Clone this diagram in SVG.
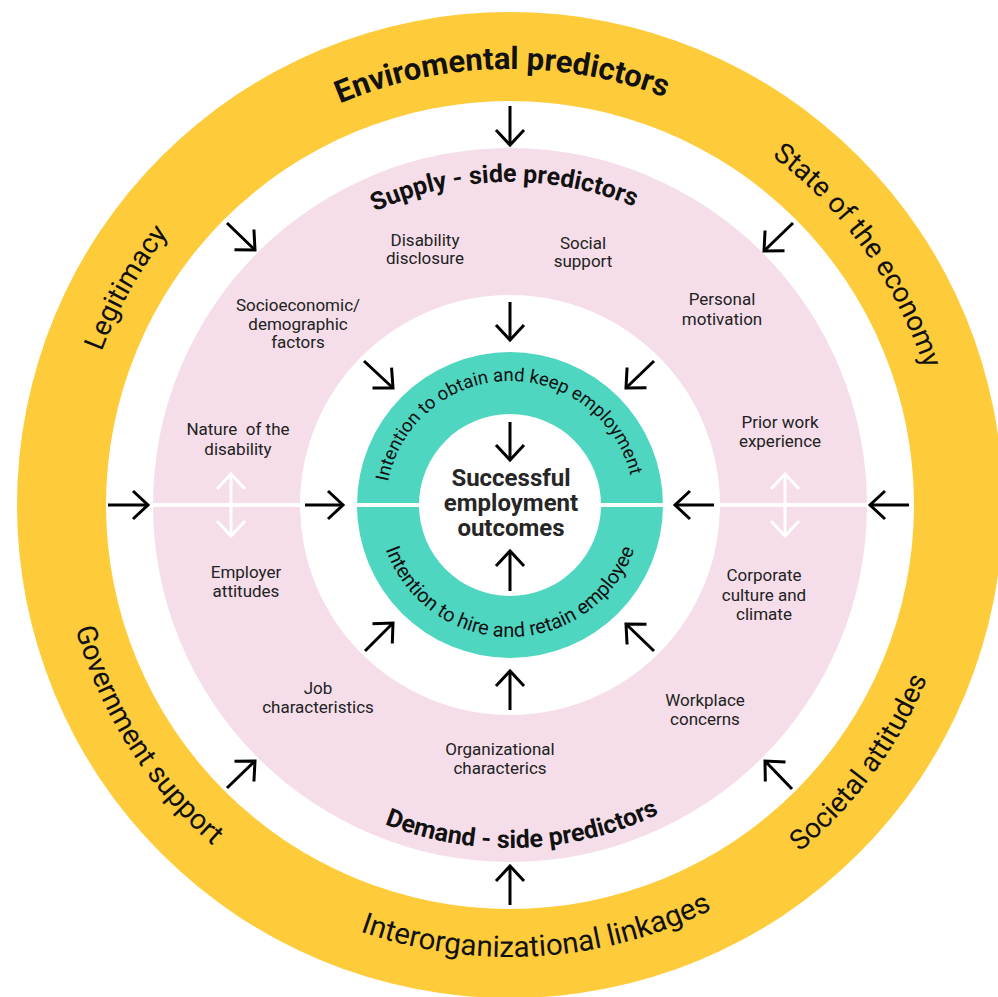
<svg xmlns="http://www.w3.org/2000/svg" width="998" height="997" viewBox="0 0 998 997">
<style>
.lbl{font-family:Roboto,"Liberation Sans",sans-serif;font-size:17px;fill:#222;text-anchor:middle}
.ring{font-family:Roboto,"Liberation Sans",sans-serif;font-size:28px;fill:#111;text-anchor:middle}
.ringb{font-family:Roboto,"Liberation Sans",sans-serif;font-size:31px;font-weight:bold;fill:#111;text-anchor:middle}
.pinkb{font-family:Roboto,"Liberation Sans",sans-serif;font-size:25px;font-weight:bold;fill:#111;text-anchor:middle}
.teal{font-family:Roboto,"Liberation Sans",sans-serif;fill:#111;text-anchor:middle}
.ctr{font-family:Roboto,"Liberation Sans",sans-serif;font-size:24px;font-weight:bold;fill:#262626;text-anchor:middle}
.arr{stroke:#000;stroke-width:3;fill:none;marker-end:url(#ah)}
.warr{stroke:#fff;stroke-width:3;fill:none;marker-start:url(#wh);marker-end:url(#wh)}
</style>
<defs>
<marker id="ah" markerUnits="userSpaceOnUse" markerWidth="40" markerHeight="40" viewBox="-20 -20 40 40" refX="0" refY="0" orient="auto">
<path d="M-15,-14 L0,0 L-15,14" fill="none" stroke="#000" stroke-width="3"/>
</marker>
<marker id="wh" markerUnits="userSpaceOnUse" markerWidth="40" markerHeight="40" viewBox="-20 -20 40 40" refX="0" refY="0" orient="auto-start-reverse">
<path d="M-15,-14 L0,0 L-15,14" fill="none" stroke="#fff" stroke-width="3"/>
</marker>
<path id="pTopY" d="M510,941 A436,436 0 1,1 510,69 A436,436 0 1,1 510,941"/>
<path id="pBotY" d="M510,53 A452,452 0 1,0 510,957 A452,452 0 1,0 510,53"/>
<path id="pTopP" d="M510,828 A323,323 0 1,1 510,182 A323,323 0 1,1 510,828"/>
<path id="pBotP" d="M510,162 A343,343 0 1,0 510,848 A343,343 0 1,0 510,162"/>
<path id="pTopT" d="M510,629 A124,124 0 1,1 510,381 A124,124 0 1,1 510,629"/>
<path id="pBotT" d="M510,373 A132,132 0 1,0 510,637 A132,132 0 1,0 510,373"/>
</defs>
<rect width="998" height="997" fill="#fff"/>
<g id="environmental-ring">
<circle cx="510" cy="505" r="493" fill="#FECB3B"/>
<circle cx="510" cy="505" r="404" fill="#fff"/>
<text class="ringb"><textPath href="#pTopY" startOffset="49.7%">Enviromental predictors</textPath></text>
<text class="ring"><textPath href="#pTopY" startOffset="33.2%">Legitimacy</textPath></text>
<text class="ring"><textPath href="#pTopY" startOffset="65.1%">State of the economy</textPath></text>
<text class="ring" style="font-size:28.5px"><textPath href="#pBotY" startOffset="34%">Government support</textPath></text>
<text class="ring" style="font-size:29.5px"><textPath href="#pBotY" startOffset="51%">Interorganizational linkages</textPath></text>
<text class="ring"><textPath href="#pBotY" startOffset="64.9%">Societal attitudes</textPath></text>
</g>
<g id="predictors-ring">
<circle cx="510" cy="505" r="357" fill="#F5DEE9"/>
<circle cx="510" cy="505" r="210" fill="#fff"/>
<text class="pinkb"><textPath href="#pTopP" startOffset="49.7%">Supply - side predictors</textPath></text>
<text class="pinkb"><textPath href="#pBotP" startOffset="50.6%">Demand - side predictors</textPath></text>
</g>
<g id="intentions-ring">
<circle cx="510" cy="505" r="153" fill="#4ED6C1"/>
<circle cx="510" cy="505" r="91" fill="#fff"/>
<text class="teal" style="font-size:18.5px"><textPath href="#pTopT" startOffset="49.6%">Intention to obtain and keep employment</textPath></text>
<text class="teal" style="font-size:20px"><textPath href="#pBotT" startOffset="50%">Intention to hire and retain employee</textPath></text>
</g>
<line x1="153" y1="505" x2="867" y2="505" stroke="#fff" stroke-width="4"/>
<g id="center">
<text class="ctr"><tspan x="511" y="486">Successful</tspan><tspan x="511" y="511">employment</tspan><tspan x="511" y="536">outcomes</tspan></text>
</g>
<g id="label-disability-disclosure"><text class="lbl"><tspan x="425" y="246">Disability</tspan><tspan x="425" y="264">disclosure</tspan></text></g>
<g id="label-social-support"><text class="lbl"><tspan x="583" y="249">Social</tspan><tspan x="583" y="267">support</tspan></text></g>
<g id="label-personal-motivation"><text class="lbl"><tspan x="722" y="305">Personal</tspan><tspan x="722" y="325">motivation</tspan></text></g>
<g id="label-socioeconomic"><text class="lbl"><tspan x="298" y="311">Socioeconomic/</tspan><tspan x="298" y="330">demographic</tspan><tspan x="298" y="348">factors</tspan></text></g>
<g id="label-nature-disability"><text class="lbl" xml:space="preserve" style="white-space:pre"><tspan x="238" y="435">Nature  of the</tspan><tspan x="238" y="455">disability</tspan></text></g>
<g id="label-prior-work"><text class="lbl"><tspan x="780" y="428">Prior work</tspan><tspan x="780" y="447">experience</tspan></text></g>
<g id="label-employer-attitudes"><text class="lbl"><tspan x="246" y="578">Employer</tspan><tspan x="246" y="597">attitudes</tspan></text></g>
<g id="label-corporate-culture"><text class="lbl"><tspan x="764" y="581">Corporate</tspan><tspan x="764" y="601">culture and</tspan><tspan x="764" y="620">climate</tspan></text></g>
<g id="label-job-characteristics"><text class="lbl"><tspan x="318" y="694">Job</tspan><tspan x="318" y="713">characteristics</tspan></text></g>
<g id="label-workplace-concerns"><text class="lbl"><tspan x="705" y="706">Workplace</tspan><tspan x="705" y="725">concerns</tspan></text></g>
<g id="label-organizational"><text class="lbl"><tspan x="500" y="755">Organizational</tspan><tspan x="500" y="774">characterics</tspan></text></g>
<g id="connectors">
<line class="arr" x1="510" y1="106" x2="510" y2="145"/>
<line class="arr" x1="510" y1="302" x2="510" y2="340"/>
<line class="arr" x1="510" y1="422" x2="510" y2="460"/>
<line class="arr" x1="510" y1="905" x2="510" y2="866"/>
<line class="arr" x1="510" y1="710" x2="510" y2="671"/>
<line class="arr" x1="510" y1="591" x2="510" y2="551"/>
<line class="arr" x1="108" y1="505" x2="148" y2="505"/>
<line class="arr" x1="305" y1="505" x2="343" y2="505"/>
<line class="arr" x1="909" y1="505" x2="870" y2="505"/>
<line class="arr" x1="714" y1="505" x2="675" y2="505"/>
<line class="arr" x1="227" y1="223" x2="255" y2="250"/>
<line class="arr" x1="364" y1="361" x2="393" y2="388"/>
<line class="arr" x1="793" y1="223" x2="764" y2="251"/>
<line class="arr" x1="654" y1="361" x2="626" y2="388"/>
<line class="arr" x1="227" y1="788" x2="255" y2="761"/>
<line class="arr" x1="365" y1="651" x2="393" y2="623"/>
<line class="arr" x1="654" y1="651" x2="626" y2="624"/>
<line class="arr" x1="792" y1="789" x2="765" y2="761"/>
<line class="warr" x1="231" y1="474" x2="231" y2="536"/>
<line class="warr" x1="785" y1="474" x2="785" y2="536"/>
</g>
</svg>
